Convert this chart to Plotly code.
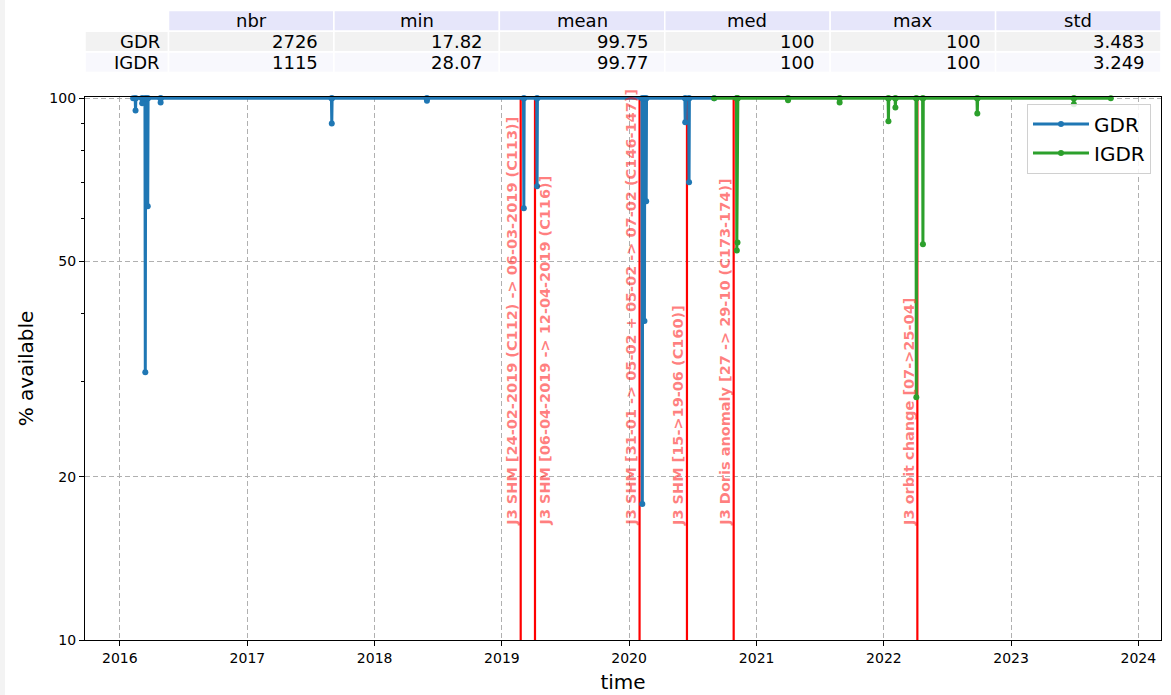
import math
from datetime import date, timedelta

import plotly.graph_objects as go

# ---- availability series (daily % of data available) ----
gdr_start = "2016-02-08"
gdr_end = "2020-09-01"
gdr_dip_dates = ["2016-02-15", "2016-03-05", "2016-03-14", "2016-03-21", "2016-04-27",
                 "2017-08-31", "2018-05-31", "2019-03-05", "2019-04-12", "2020-02-08",
                 "2020-02-14", "2020-02-19", "2020-06-10", "2020-06-21"]
gdr_dip_values = [95.0, 97.9, 31.2, 63.2, 98.3, 89.9, 99.0, 62.7, 68.8, 17.82,
                  38.8, 64.6, 90.3, 70.0]

igdr_start = "2020-09-01"
igdr_end = "2023-10-14"
igdr_dip_dates = ["2020-11-05", "2020-11-07", "2021-04-01", "2021-08-27", "2022-01-14",
                  "2022-02-03", "2022-04-04", "2022-04-23", "2022-09-26", "2023-06-30"]
igdr_dip_values = [52.4, 54.2, 99.2, 98.3, 90.7, 96.2, 28.07, 53.8, 93.8, 97.5]

full_value = 100.0

# ---- annotated events ----
event_dates = ["2019-02-24", "2019-04-06", "2020-01-31", "2020-06-15", "2020-10-27", "2022-04-07"]
event_labels = [
    "J3 SHM [24-02-2019 (C112) -> 06-03-2019 (C113)]",
    "J3 SHM [06-04-2019 -> 12-04-2019 (C116)]",
    "J3 SHM [31-01 -> 05-02 + 05-02 -> 07-02 (C146-147)]",
    "J3 SHM [15->19-06 (C160)]",
    "J3 Doris anomaly [27 -> 29-10 (C173-174)]",
    "J3 orbit change [07->25-04]",
]
# which side of its line each label sits on
event_label_side = ["left", "right", "left", "left", "left", "left"]
event_label_base = 16.2

# ---- summary table ----
stat_names = ["nbr", "min", "mean", "med", "max", "std"]
row_names = ["GDR", "IGDR"]
gdr_stats = [2726, 17.82, 99.75, 100, 100, 3.483]
igdr_stats = [1115, 28.07, 99.77, 100, 100, 3.249]

# ---- axes ----
x_range = ["2015-09-23", "2024-03-06"]
year_ticks = [2016, 2017, 2018, 2019, 2020, 2021, 2022, 2023, 2024]
y_major = [10, 20, 50, 100]
y_minor = [30, 40, 60, 70, 80, 90]
y_top = 100.58

FONT = "DejaVu Sans"
BLUE = "#1f77b4"
GREEN = "#2ca02c"


def build_series(start, end, dip_dates, dip_values):
    """Expand a list of dips into a line that returns to 100 % around each dip."""
    one = timedelta(days=1)
    xs, ys = [start], [full_value]
    for d, v in zip(dip_dates, dip_values):
        day = date.fromisoformat(d)
        xs += [(day - one).isoformat(), d, (day + one).isoformat()]
        ys += [full_value, v, full_value]
    xs.append(end)
    ys.append(full_value)
    return xs, ys


fig = go.Figure()

# event markers (red vertical lines) below the data
for d in event_dates:
    fig.add_trace(go.Scatter(x=[d, d], y=[y_major[0], y_top], mode="lines",
                             line=dict(color="#ff0000", width=2.2),
                             showlegend=False, hoverinfo="skip"))

gx, gy = build_series(gdr_start, gdr_end, gdr_dip_dates, gdr_dip_values)
ix, iy = build_series(igdr_start, igdr_end, igdr_dip_dates, igdr_dip_values)

fig.add_trace(go.Scatter(x=gx, y=gy, name="GDR", mode="lines+markers",
                         line=dict(color=BLUE, width=3), marker=dict(size=6, color=BLUE),
                         cliponaxis=False))
fig.add_trace(go.Scatter(x=ix, y=iy, name="IGDR", mode="lines+markers",
                         line=dict(color=GREEN, width=3), marker=dict(size=6, color=GREEN),
                         cliponaxis=False))

annotations = []
for d, lab, side in zip(event_dates, event_labels, event_label_side):
    annotations.append(dict(
        x=d, y=math.log10(event_label_base), xref="x", yref="y",
        text=lab, showarrow=False, textangle=-90,
        xanchor="right" if side == "left" else "left",
        xshift=0 if side == "left" else 1,
        yanchor="bottom", borderpad=0,
        font=dict(family=FONT, size=14.5, color="rgba(255,0,0,0.5)", weight="bold"),
    ))

# ---- table drawn above the plot area (paper coordinates) ----
plot_w, plot_h = 1076.0, 543.0
plot_bottom_px = 640.0


def py(px):
    return (plot_bottom_px - px) / plot_h


label_w = 83.5 / plot_w
col_w = (1.0 - label_w) / len(stat_names)
row_edges_px = [10.5, 31.2, 51.9, 72.6]
header_fill = "#e6e6fa"
row_fills = ["#f2f2f2", "#f8f8fd"]
table_font = dict(family=FONT, size=18, color="black")

shapes = [
    # light strip along the left edge of the page
    dict(type="rect", xref="paper", yref="paper",
         x0=-85 / plot_w, x1=-80 / plot_w, y0=py(695), y1=py(0),
         fillcolor="#f3f3f3", line=dict(width=0), layer="below"),
]
for j, name in enumerate(stat_names):
    x0 = label_w + j * col_w
    shapes.append(dict(type="rect", xref="paper", yref="paper",
                       x0=x0, x1=x0 + col_w, y0=py(row_edges_px[1]), y1=py(row_edges_px[0]),
                       fillcolor=header_fill, line=dict(color="white", width=1.5), layer="below"))
    annotations.append(dict(x=x0 + col_w / 2, y=py((row_edges_px[0] + row_edges_px[1]) / 2),
                            xref="paper", yref="paper", text=name, showarrow=False,
                            xanchor="center", yanchor="middle", borderpad=0, font=table_font))

for i, (rname, stats) in enumerate(zip(row_names, [gdr_stats, igdr_stats])):
    top, bot = row_edges_px[i + 1], row_edges_px[i + 2]
    ymid = py((top + bot) / 2)
    shapes.append(dict(type="rect", xref="paper", yref="paper",
                       x0=0, x1=label_w, y0=py(bot), y1=py(top),
                       fillcolor=row_fills[i], line=dict(color="white", width=1.5), layer="below"))
    annotations.append(dict(x=label_w, y=ymid, xref="paper", yref="paper", text=rname,
                            showarrow=False, xanchor="right", yanchor="middle",
                            borderpad=0, xshift=-8, font=table_font))
    for j, v in enumerate(stats):
        x0 = label_w + j * col_w
        shapes.append(dict(type="rect", xref="paper", yref="paper",
                           x0=x0, x1=x0 + col_w, y0=py(bot), y1=py(top),
                           fillcolor=row_fills[i], line=dict(color="white", width=1.5), layer="below"))
        annotations.append(dict(x=x0 + col_w, y=ymid, xref="paper", yref="paper",
                                text=f"{v:.4g}", showarrow=False, xanchor="right",
                                yanchor="middle", borderpad=0, xshift=-15, font=table_font))

fig.update_layout(
    width=1171, height=695,
    margin=dict(l=85, r=10, t=97, b=55),
    paper_bgcolor="white", plot_bgcolor="white",
    font=dict(family=FONT, size=14, color="black"),
    showlegend=True,
    legend=dict(x=0.9907, y=0.988, xanchor="right", yanchor="top",
                bgcolor="rgba(255,255,255,0.85)", bordercolor="#d0d0d0", borderwidth=1,
                itemwidth=56,
                font=dict(family=FONT, size=20, color="black")),
    annotations=annotations,
    shapes=shapes,
)

fig.update_xaxes(
    type="date", range=x_range, automargin=False,
    tickvals=[f"{y}-01-01" for y in year_ticks], ticktext=[str(y) for y in year_ticks],
    ticks="outside", ticklen=5, tickwidth=1.2, tickcolor="black",
    showline=True, linecolor="black", linewidth=1.2, mirror=True,
    showgrid=True, gridcolor="#b0b0b0", gridwidth=1, griddash="5px,3px",
    zeroline=False,
    tickfont=dict(family=FONT, size=14, color="black"),
    title=dict(text="time", font=dict(family=FONT, size=20, color="black"), standoff=10),
)
fig.update_yaxes(
    type="log", range=[1, math.log10(y_top)], automargin=False,
    tickvals=y_major, ticktext=[str(v) for v in y_major],
    ticks="outside", ticklen=5, tickwidth=1.2, tickcolor="black",
    minor=dict(tickvals=y_minor, ticks="outside", ticklen=3, tickwidth=1, tickcolor="black",
               showgrid=False),
    showline=True, linecolor="black", linewidth=1.2, mirror=True,
    showgrid=True, gridcolor="#b0b0b0", gridwidth=1, griddash="5px,3px",
    zeroline=False,
    tickfont=dict(family=FONT, size=14, color="black"),
    title=dict(text="% available", font=dict(family=FONT, size=20, color="black"), standoff=10),
)

fig.write_html("out.html")
